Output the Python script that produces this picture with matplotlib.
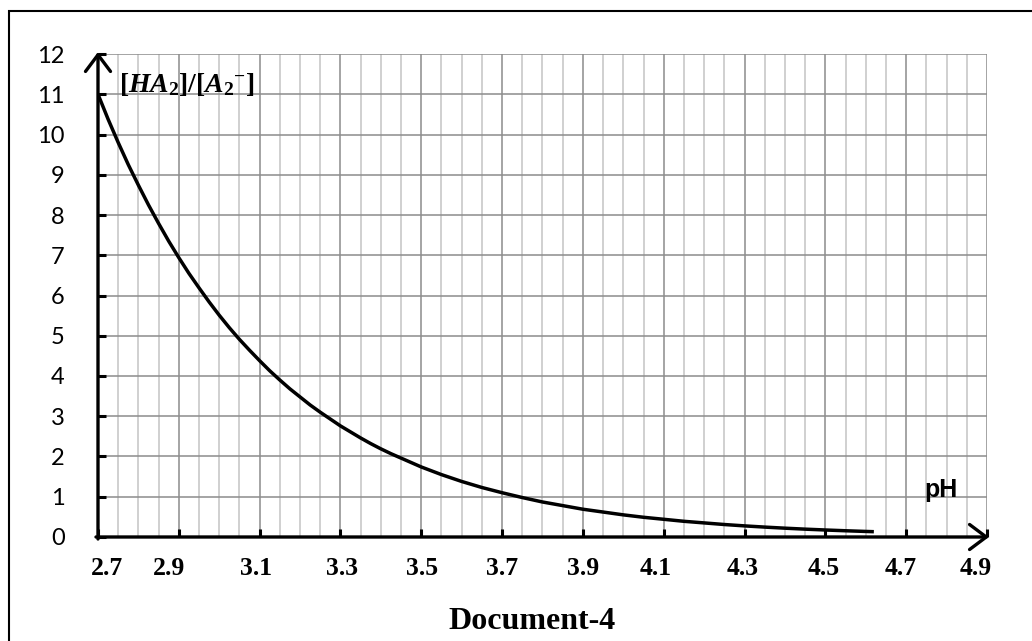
import matplotlib
matplotlib.use("Agg")
import matplotlib.pyplot as plt
from matplotlib.patches import Rectangle
from matplotlib.transforms import ScaledTranslation
import numpy as np

# values (denser where it is steep)
ph = [2.700, 2.725, 2.750, 2.775, 2.800, 2.825, 2.850, 2.875, 2.900, 2.925,
      2.950, 2.975, 3.000, 3.025, 3.050, 3.075, 3.100, 3.125, 3.150, 3.175,
      3.200, 3.225, 3.250, 3.275, 3.300, 3.325, 3.350, 3.375, 3.400, 3.425,
      3.450, 3.475, 3.500, 3.55, 3.60, 3.65, 3.70, 3.75, 3.80, 3.85,
      3.90, 3.95, 4.00, 4.05, 4.10, 4.15, 4.20, 4.25, 4.30, 4.35,
      4.40, 4.45, 4.50, 4.55, 4.60, 4.62]
ratio = [11.0, 10.38, 9.80, 9.25, 8.74, 8.25, 7.79, 7.35, 6.94, 6.55,
         6.19, 5.84, 5.51, 5.20, 4.91, 4.64, 4.38, 4.13, 3.90, 3.68,
         3.48, 3.28, 3.10, 2.93, 2.76, 2.61, 2.46, 2.32, 2.19, 2.07,
         1.96, 1.85, 1.74, 1.55, 1.38, 1.23, 1.10, 0.98, 0.87, 0.78,
         0.69, 0.62, 0.55, 0.49, 0.44, 0.39, 0.35, 0.31, 0.276, 0.246,
         0.219, 0.195, 0.174, 0.155, 0.138, 0.132]

x_labels = ["2.7", "2.9", "3.1", "3.3", "3.5", "3.7", "3.9", "4.1", "4.3", "4.5", "4.7", "4.9"]
y_labels = [str(i) for i in range(13)]

plt.rcParams['mathtext.fontset'] = 'custom'
plt.rcParams['mathtext.it'] = 'Liberation Serif:italic:bold'
plt.rcParams['mathtext.rm'] = 'Liberation Serif:bold'

fig = plt.figure(figsize=(10.32, 6.41), dpi=100)
ax = fig.add_axes([0.09496, 0.16225, 0.86143, 0.7535])

xmajor = [float(s) for s in x_labels]
ax.set_xlim(2.7, 4.9)
ax.set_ylim(0, 12)
ax.set_xticks(xmajor)
ax.set_xticks(np.round(np.arange(2.7, 4.9001, 0.05), 2), minor=True)
ax.set_yticks(range(13))
ax.set_yticklabels(y_labels, fontsize=17, family='Lato')
ax.set_xticklabels([])

for s in ax.spines.values():
    s.set_visible(False)

ax.grid(which='major', color='#8c8c8c', lw=1.1)
ax.grid(which='minor', axis='x', color='#c4c4c4', lw=1.1)
ax.set_axisbelow(True)

ax.tick_params(axis='both', which='major', direction='in', length=6, width=2.2, color='black')
ax.tick_params(axis='y', pad=24)
ax.tick_params(which='minor', length=0)

ax.plot(ph, ratio, color='black', lw=2.5, solid_capstyle='butt', solid_joinstyle='round', zorder=5)

# axes with arrows
arrow = dict(arrowstyle='->,head_length=0.6,head_width=0.45', lw=2.4, color='black',
             shrinkA=0, shrinkB=0, mutation_scale=20)
ax.annotate('', xy=(2.7, 12.05), xytext=(2.7, -0.05), arrowprops=arrow, annotation_clip=False, zorder=6)
ax.annotate('', xy=(4.905, 0), xytext=(2.695, 0), arrowprops=arrow, annotation_clip=False, zorder=6)

# x labels (bold serif, slightly shifted like the original)
offsets = [9, -10, -4, 2, 1, 0, 0, -8, -2, -2, -5, -11]
for lab, xv, dx in zip(x_labels, xmajor, offsets):
    tr = ax.get_xaxis_transform() + ScaledTranslation(dx / 100, -31.5 / 100, fig.dpi_scale_trans)
    ax.text(xv, 0, lab, transform=tr, ha='center', va='center',
            fontsize=18.5, fontweight='bold', family='Liberation Serif')

ax.text(2.752, 11.25, r'$[HA_2]/[A_2{}^{-}]$', fontsize=20, ha='left', va='center', zorder=7)
ax.text(4.7866, 1.168, 'pH', fontsize=18, fontweight='bold', family='Liberation Sans',
        ha='center', va='center')

fig.text(0.5155, 0.0312, 'Document-4', fontsize=23, fontweight='bold',
         family='Liberation Serif', ha='center', va='center')

fig.add_artist(Rectangle((0.00824, -0.05), 1.1, 1.0328, transform=fig.transFigure,
                         fill=False, ec='black', lw=1.5))

fig.savefig('out.png', dpi=100)
